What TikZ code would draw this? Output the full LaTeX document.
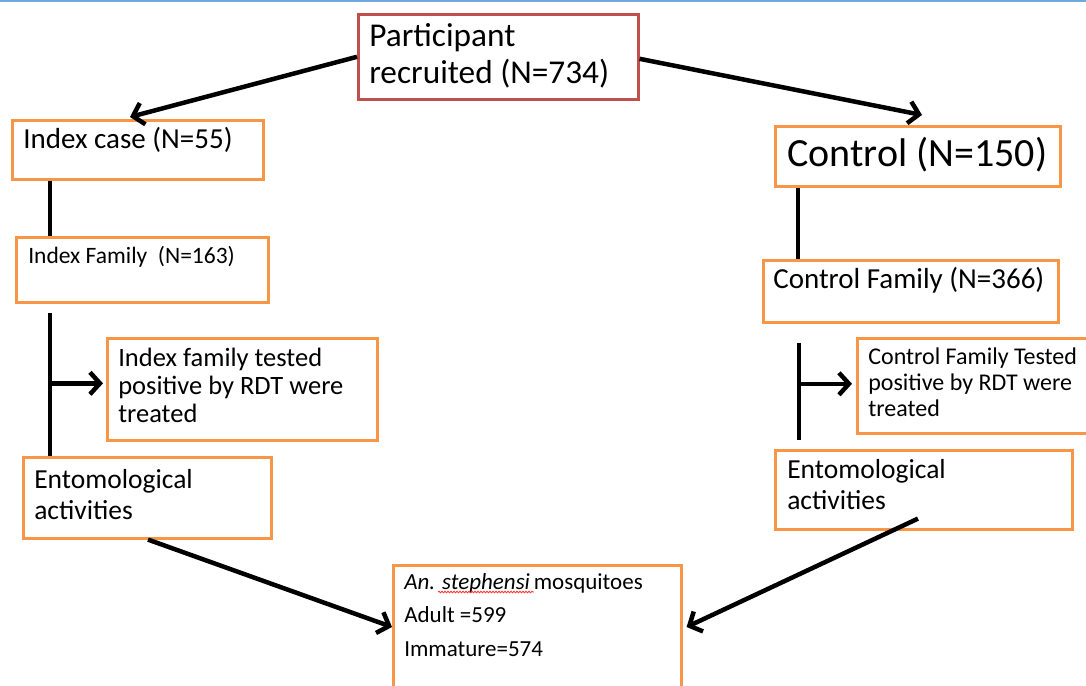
\documentclass[tikz,border=0pt]{standalone}
\usepackage{fontspec}
\setmainfont{Carlito}
\usetikzlibrary{arrows.meta,decorations.pathmorphing}
\definecolor{boxorange}{HTML}{F79646}
\definecolor{boxred}{HTML}{C0504D}
\definecolor{topblue}{HTML}{6FA8DC}
\newcommand{\bxt}[4]{\parbox[c][#2][t]{#1}{\raggedright\rule{0pt}{#3}#4}}
\newcommand{\fs}[2]{\fontsize{#1pt}{#2pt}\selectfont}
\tikzset{
  obox/.style={draw=boxorange, line width=2.6pt, inner ysep=0pt, anchor=north west, text=black},
  rbox/.style={draw=boxred, line width=2.6pt, inner ysep=0pt, anchor=north west, text=black},
  link/.style={line width=4.5pt, black},
  arr/.style={link, -{Straight Barb[length=10pt,width=22pt]}},
}
\begin{document}
\begin{tikzpicture}[x=1pt,y=-1pt]
\useasboundingbox (0,0) rectangle (1086,685);
\draw[topblue, line width=2.5pt] (0,0.5) -- (1086,0.5);

\node[rbox, inner xsep=11pt] (p) at (357,13)
  {\bxt{258pt}{85pt}{32pt}{\fs{33.3}{37}Participant\\recruited (N=734)}};

\node[obox, inner xsep=11pt] (ic) at (11,119)
  {\bxt{229pt}{59pt}{28pt}{\fs{29}{33}Index case (N=55)}};
\node[obox, inner xsep=12pt] (ifam) at (15,236)
  {\bxt{228pt}{65pt}{26pt}{\fs{23.5}{28}Index Family\ \ (N=163)}};
\node[obox, inner xsep=11pt] (it) at (106,337)
  {\bxt{248pt}{102pt}{28pt}{\fs{26.5}{28}Index family tested\\positive by RDT were\\treated}};
\node[obox, inner xsep=11pt] (el) at (22,456)
  {\bxt{226pt}{81pt}{31pt}{\fs{27.5}{31.5}Entomological\\activities}};

\node[obox, inner xsep=12pt] (c) at (774,125)
  {\bxt{261pt}{60pt}{40pt}{\fs{40}{44}Control (N=150)}};
\node[obox, inner xsep=10pt] (cf) at (762,259)
  {\bxt{275pt}{62pt}{28pt}{\fs{29}{33}Control Family (N=366)}};
\node[obox, inner xsep=11pt] (ct) at (856,337)
  {\bxt{220pt}{95pt}{26pt}{\fs{24}{26}Control Family Tested\\positive by RDT were\\treated}};
\node[obox, inner xsep=12pt] (er) at (774,449)
  {\bxt{273pt}{79pt}{28pt}{\fs{27.5}{31.5}Entomological\\activities}};

\node[obox, inner xsep=11pt] (b) at (392,564)
  {\bxt{266pt}{140pt}{24pt}{\fs{23}{33.5}\textit{An. stephensi}\,mosquitoes\\Adult =599\\Immature=574}};
\draw[red!80, line width=0.8pt, decoration={snake, amplitude=0.8pt, segment length=3pt}, decorate]
  ([xshift=46pt,yshift=-28pt]b.north west) -- ([xshift=142pt,yshift=-28pt]b.north west);

\coordinate (lx) at (50,0);
\coordinate (rx) at (798,0);
\coordinate (rx2) at (799,0);

\draw[arr] (p.west) -- ([xshift=119pt,yshift=2pt]ic.north west);
\draw[arr] ([yshift=-2pt]p.east) -- ([xshift=148pt,yshift=10pt]c.north west);

\draw[link] (ic.south -| lx) -- (ifam.north -| lx);
\draw[link] ([yshift=-9pt]ifam.south -| lx) -- (el.north -| lx);
\draw[arr] ([yshift=6pt]it.west -| lx) -- ([xshift=-3pt,yshift=6pt]it.west);

\draw[link] (c.south -| rx) -- (cf.north -| rx);
\draw[link] ([yshift=-19pt]cf.south -| rx2) -- ([yshift=9pt]er.north -| rx2);
\draw[arr] ([yshift=2pt]ct.west -| rx2) -- ([xshift=-4pt,yshift=2pt]ct.west);

\draw[arr] ([xshift=126pt]el.south west) -- ([yshift=-63pt]b.north west);
\draw[arr] ([xshift=144pt,yshift=12pt]er.south west) -- ([xshift=4pt,yshift=-63pt]b.north east);
\end{tikzpicture}
\end{document}
